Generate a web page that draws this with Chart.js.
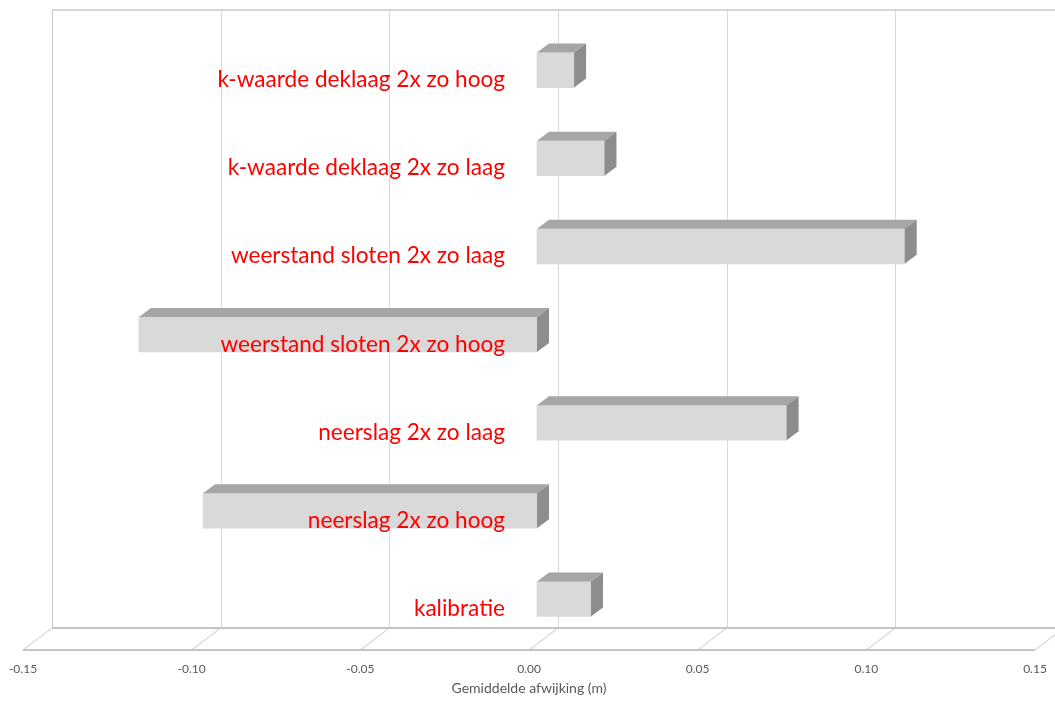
<!DOCTYPE html>
<html>
<head>
<meta charset="utf-8">
<script src="https://cdn.jsdelivr.net/npm/chart.js@4.4.1/dist/chart.umd.min.js"></script>
<style>
  html, body { margin: 0; padding: 0; background: #ffffff; }
  #wrap { width: 1055px; height: 702px; }
</style>
</head>
<body>
<div id="wrap"><canvas id="chart" width="1055" height="702"></canvas></div>
<script>
// Sensitivity runs: mean deviation (m) per scenario
const categories = [
  'k-waarde deklaag 2x zo hoog',
  'k-waarde deklaag 2x zo laag',
  'weerstand sloten 2x zo laag',
  'weerstand sloten 2x zo hoog',
  'neerslag 2x zo laag',
  'neerslag 2x zo hoog',
  'kalibratie'
];
const deviations = [0.011, 0.020, 0.109, -0.118, 0.074, -0.099, 0.016];
const tickValues = [-0.15, -0.10, -0.05, 0.00, 0.05, 0.10, 0.15];
const tickLabels = ['-0.15', '-0.10', '-0.05', '0.00', '0.05', '0.10', '0.15'];
const axisTitle = 'Gemiddelde afwijking (m)';

// 3D offsets (px) relative to the plane the bars are drawn in
const BACK = { dx: 21, dy: -15 };
const FRONT = { dx: -8, dy: 7 };
const DEPTH = { dx: 12, dy: -9 };

const faceTop = '#a6a6a6';
const faceSide = '#8d8d8d';

const perspective = {
  id: 'perspective',
  beforeDatasetsDraw(chart) {
    const { ctx, chartArea: a, scales: { x } } = chart;
    const wallTop = a.top + BACK.dy - 1;
    const floorBack = a.bottom + BACK.dy;
    const floorFront = a.bottom + FRONT.dy;
    ctx.save();
    // back wall gridlines
    ctx.lineWidth = 1;
    tickValues.forEach((v, i) => {
      const px = Math.round(x.getPixelForValue(v) + BACK.dx) + 0.5;
      ctx.strokeStyle = i === 0 ? '#c8c8c8' : '#d9d9d9';
      ctx.beginPath();
      ctx.moveTo(px, wallTop);
      ctx.lineTo(px, floorBack);
      ctx.stroke();
    });
    // wall top edge
    ctx.strokeStyle = '#c8c8c8';
    ctx.lineWidth = 1.5;
    ctx.beginPath();
    ctx.moveTo(x.getPixelForValue(tickValues[0]) + BACK.dx, wallTop);
    ctx.lineTo(x.getPixelForValue(tickValues[tickValues.length - 1]) + BACK.dx, wallTop);
    ctx.stroke();
    // floor diagonals
    ctx.strokeStyle = '#d9d9d9';
    ctx.lineWidth = 1.2;
    tickValues.forEach(v => {
      const px = x.getPixelForValue(v);
      ctx.beginPath();
      ctx.moveTo(px + BACK.dx, floorBack);
      ctx.lineTo(px + FRONT.dx, floorFront);
      ctx.stroke();
    });
    // floor back and front edges
    ctx.strokeStyle = '#c4c4c4';
    ctx.lineWidth = 2;
    const x0 = x.getPixelForValue(tickValues[0]);
    const x1 = x.getPixelForValue(tickValues[tickValues.length - 1]);
    ctx.beginPath();
    ctx.moveTo(x0 + BACK.dx, floorBack);
    ctx.lineTo(x1 + BACK.dx, floorBack);
    ctx.moveTo(x0 + FRONT.dx, floorFront);
    ctx.lineTo(x1 + FRONT.dx, floorFront);
    ctx.stroke();
    ctx.restore();
  },
  afterDatasetsDraw(chart) {
    const { ctx, chartArea: a, scales: { x, y } } = chart;
    const meta = chart.getDatasetMeta(0);
    ctx.save();
    // top and side faces of each bar
    meta.data.forEach(bar => {
      const left = Math.min(bar.x, bar.base);
      const right = Math.max(bar.x, bar.base);
      const top = bar.y - bar.height / 2;
      const bottom = bar.y + bar.height / 2;
      ctx.fillStyle = faceTop;
      ctx.beginPath();
      ctx.moveTo(left, top);
      ctx.lineTo(right, top);
      ctx.lineTo(right + DEPTH.dx, top + DEPTH.dy);
      ctx.lineTo(left + DEPTH.dx, top + DEPTH.dy);
      ctx.closePath();
      ctx.fill();
      ctx.fillStyle = faceSide;
      ctx.beginPath();
      ctx.moveTo(right, top);
      ctx.lineTo(right + DEPTH.dx, top + DEPTH.dy);
      ctx.lineTo(right + DEPTH.dx, bottom + DEPTH.dy);
      ctx.lineTo(right, bottom);
      ctx.closePath();
      ctx.fill();
    });
    // category labels
    ctx.fillStyle = '#ff0000';
    ctx.font = '22.6px Lato, "Open Sans", sans-serif';
    ctx.textAlign = 'right';
    ctx.textBaseline = 'alphabetic';
    const labelX = x.getPixelForValue(0) - 32;
    categories.forEach((c, i) => {
      ctx.fillText(c, labelX, y.getPixelForValue(i) + 17);
    });
    // value axis tick labels along the front edge of the floor
    ctx.fillStyle = '#595959';
    ctx.font = '12px Lato, "Open Sans", sans-serif';
    ctx.textAlign = 'center';
    ctx.textBaseline = 'middle';
    tickValues.forEach((v, i) => {
      ctx.fillText(tickLabels[i], x.getPixelForValue(v) + FRONT.dx, a.bottom + 26);
    });
    // axis title, centred under the front edge of the floor
    const cx = (x.getPixelForValue(tickValues[0]) +
                x.getPixelForValue(tickValues[tickValues.length - 1])) / 2 + FRONT.dx;
    ctx.font = '14px Lato, "Open Sans", sans-serif';
    ctx.fillText(axisTitle, cx, a.bottom + 45);
    ctx.restore();
  }
};

new Chart(document.getElementById('chart'), {
  type: 'bar',
  data: {
    labels: categories,
    datasets: [{
      data: deviations,
      backgroundColor: '#d9d9d9',
      borderWidth: 0,
      barThickness: 35
    }]
  },
  options: {
    indexAxis: 'y',
    responsive: false,
    animation: false,
    layout: { padding: { left: 31, right: 12, top: 26, bottom: 59 } },
    scales: {
      x: { type: 'linear', min: -0.15, max: 0.15, display: false },
      y: { type: 'category', display: false }
    },
    plugins: {
      legend: { display: false },
      tooltip: { enabled: false }
    }
  },
  plugins: [perspective]
});
</script>
</body>
</html>
